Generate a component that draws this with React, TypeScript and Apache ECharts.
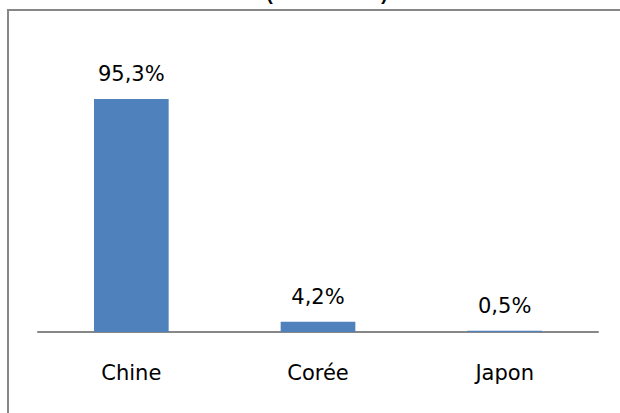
import React, { useEffect, useRef } from "react";
import * as echarts from "echarts";

const categories = ["Chine", "Corée", "Japon"];
const shares = [95.3, 4.2, 0.5];
const titleText = "(2015-2016)";

export default function App() {
  const ref = useRef<HTMLDivElement>(null);
  useEffect(() => {
    document.body.style.margin = "0";
    const chart = echarts.init(ref.current!, null, { renderer: "svg" });
    chart.setOption({
      animation: false,
      backgroundColor: "#ffffff",
      graphic: [
        {
          type: "polyline",
          shape: { points: [[8, 413], [8, 10], [620, 10]] },
          style: { stroke: "#878787", lineWidth: 2, fill: "none" },
          silent: true,
        },
        {
          type: "text",
          x: 327,
          y: 4,
          style: {
            text: titleText,
            font: "bold 19px 'Liberation Mono'",
            fill: "#000000",
            align: "center",
            verticalAlign: "bottom",
          },
        },
      ],
      grid: { left: 38, right: 22, top: 87.5, bottom: 81 },
      xAxis: {
        type: "category",
        data: categories,
        axisLine: { lineStyle: { color: "#878787", width: 2 } },
        axisTick: { show: false },
        axisLabel: {
          color: "#000000",
          fontFamily: "DejaVu Sans",
          fontSize: 21,
          margin: 30,
        },
      },
      yAxis: {
        type: "value",
        min: 0,
        max: 100,
        show: false,
        splitLine: { show: false },
      },
      series: [
        {
          type: "bar",
          data: shares,
          barWidth: "40%",
          itemStyle: { color: "#4F81BD" },
          label: {
            show: true,
            position: "top",
            distance: 14,
            color: "#000000",
            fontFamily: "DejaVu Sans",
            fontSize: 21,
            formatter: (p: any) => String(p.value).replace(".", ",") + "%",
          },
        },
      ],
    });
    return () => chart.dispose();
  }, []);
  return <div ref={ref} style={{ width: 620, height: 413 }} />;
}
